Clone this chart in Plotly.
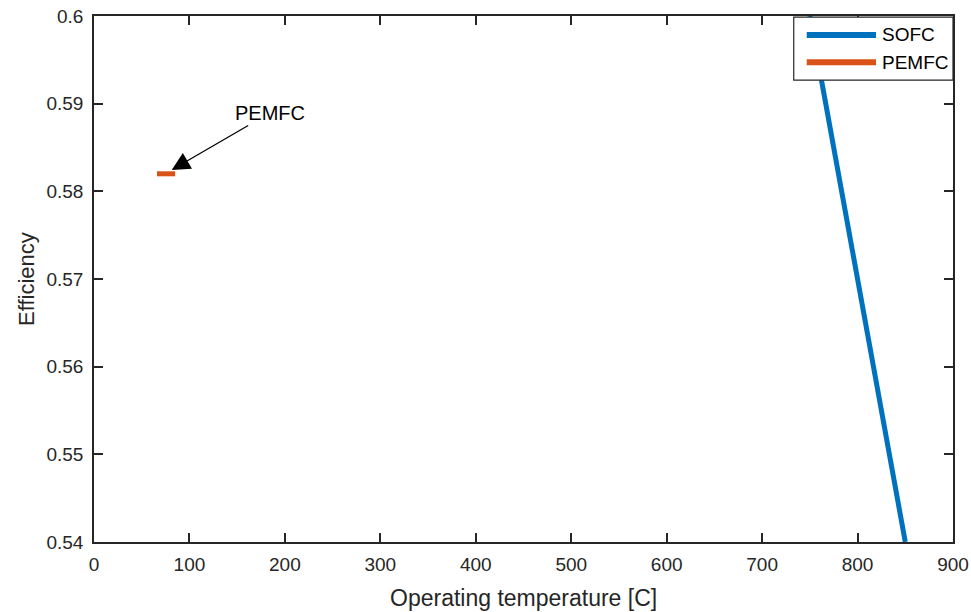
import plotly.graph_objects as go

# Data
sofc_temp = [750, 800, 850]
sofc_eff = [0.600, 0.570, 0.540]
pemfc_temp = [66, 85]
pemfc_eff = [0.582, 0.582]

x_ticks = [0, 100, 200, 300, 400, 500, 600, 700, 800, 900]
y_ticks = [0.54, 0.55, 0.56, 0.57, 0.58, 0.59, 0.6]
y_tick_text = ["0.54", "0.55", "0.56", "0.57", "0.58", "0.59", "0.6"]

series_names = ["SOFC", "PEMFC"]
series_colors = ["#0072BD", "#D95319"]
x_title = "Operating temperature [C]"
y_title = "Efficiency"

FONT = "Liberation Sans, Arial, Helvetica, sans-serif"
AX = "#262626"

fig = go.Figure()
fig.add_trace(go.Scatter(x=sofc_temp, y=sofc_eff, mode="lines", name=series_names[0],
                         line=dict(color=series_colors[0], width=5), showlegend=False))
fig.add_trace(go.Scatter(x=pemfc_temp, y=pemfc_eff, mode="lines", name=series_names[1],
                         line=dict(color=series_colors[1], width=5), showlegend=False))

axis_common = dict(
    showgrid=False, zeroline=False, showline=True, linecolor=AX, linewidth=1.5,
    mirror="ticks", ticks="inside", ticklen=9, tickwidth=1.5, tickcolor=AX,
    tickfont=dict(family=FONT, size=19, color=AX), automargin=False,
)

fig.update_xaxes(range=[0, 900], tickvals=x_ticks, ticklabelstandoff=4, **axis_common)
fig.update_yaxes(range=[0.54, 0.6], tickvals=y_ticks, ticktext=y_tick_text, ticklabelstandoff=5,
                 **axis_common)

# Axis titles as annotations
fig.add_annotation(x=0.5, y=0, xref="paper", yref="paper", text=x_title, showarrow=False,
                   xanchor="center", yanchor="middle", yshift=-56,
                   font=dict(family=FONT, size=23, color=AX))
fig.add_annotation(x=0, y=0.5, xref="paper", yref="paper", text=y_title, showarrow=False,
                   xanchor="center", yanchor="middle", xshift=-68, textangle=-90,
                   font=dict(family=FONT, size=22, color=AX))

# Annotation with arrow
fig.add_annotation(x=81.4, y=0.58244, xref="x", yref="y", text=series_names[1],
                   showarrow=True, arrowhead=2, arrowsize=2.8, arrowwidth=1.3, arrowcolor="black",
                   ax=98, ay=-57, font=dict(family=FONT, size=20, color="black"))

# Custom legend
shapes = [dict(type="rect", xref="paper", yref="paper", x0=0.8146, x1=1.0, y0=0.878, y1=0.998,
               fillcolor="white", line=dict(color=AX, width=1.2), layer="above")]
legend_y = [0.964, 0.912]
for name, col, yy in zip(series_names, series_colors, legend_y):
    shapes.append(dict(type="line", xref="paper", yref="paper", x0=0.8297, x1=0.9104, y0=yy, y1=yy,
                       line=dict(color=col, width=6), layer="above"))
    fig.add_annotation(x=0.9149, y=yy, xref="paper", yref="paper", text=name, showarrow=False,
                       xanchor="left", yanchor="middle", font=dict(family=FONT, size=19, color="black"))

fig.update_layout(
    width=971, height=612, shapes=shapes,
    margin=dict(l=94.3, r=17.7, t=16, b=70, autoexpand=False),
    plot_bgcolor="white", paper_bgcolor="white",
    font=dict(family=FONT, color=AX),
)

fig.write_html("out.html", config={"displayModeBar": False},
               post_script="document.body.style.margin='0';document.body.style.overflow='hidden';")
